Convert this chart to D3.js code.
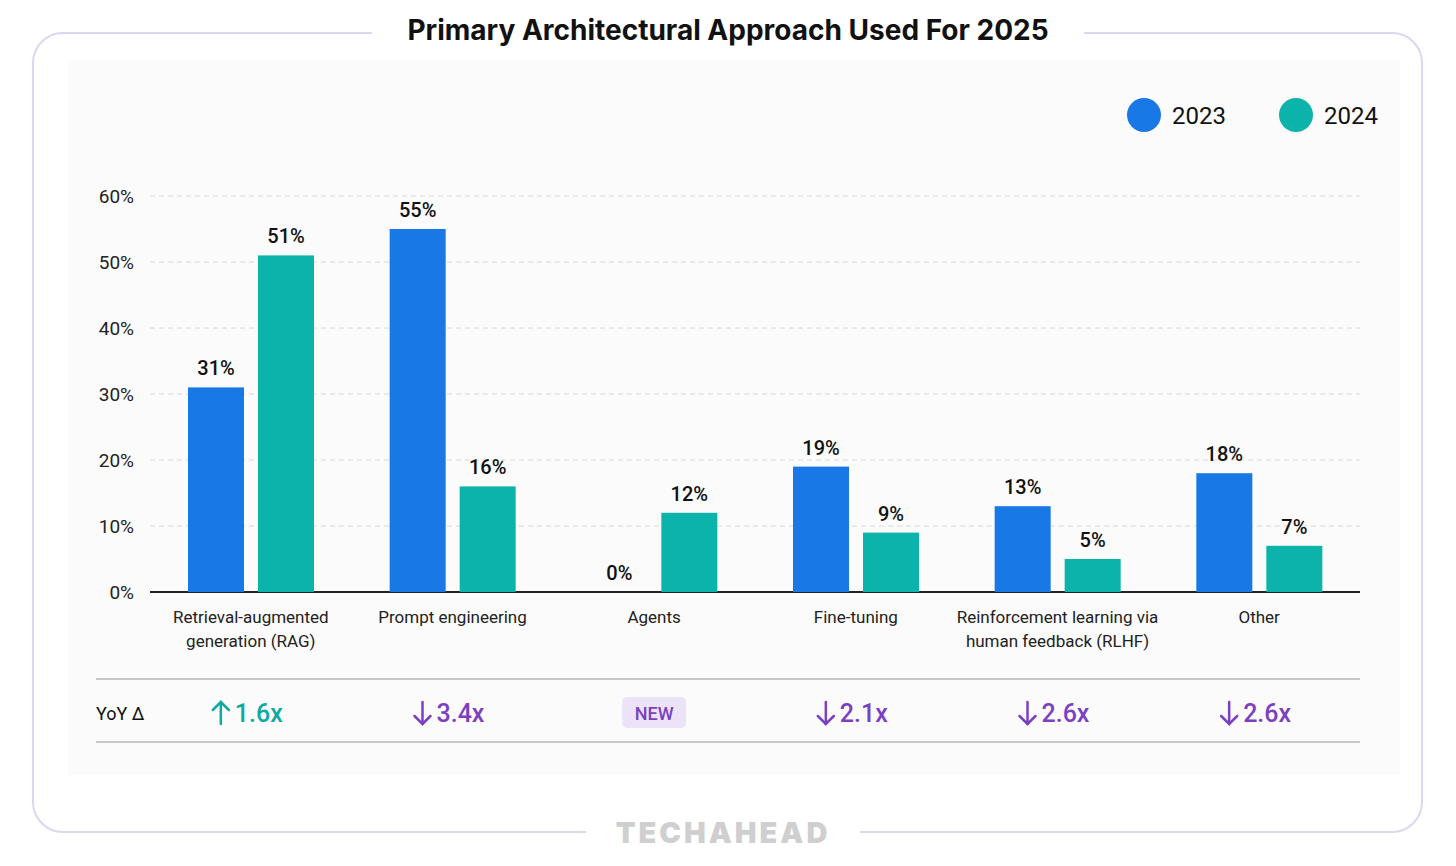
<!DOCTYPE html>
<html><head><meta charset="utf-8">
<script src="https://cdn.jsdelivr.net/npm/d3@7"></script>
<style>body{margin:0;background:#fff}svg{display:block}</style>
</head><body>
<svg id="chart" width="1456" height="866"></svg>
<script>
// chart data
const categories = ["Retrieval-augmented\ngeneration (RAG)", "Prompt engineering", "Agents", "Fine-tuning", "Reinforcement learning via\nhuman feedback (RLHF)", "Other"];
const series = ["2023", "2024"];
const values2023 = [31, 55, 0, 19, 13, 18];
const values2024 = [51, 16, 12, 9, 5, 7];
const yoyLabels = ["1.6x", "3.4x", "NEW", "2.1x", "2.6x", "2.6x"];
const yoyDir = ["up", "down", "new", "down", "down", "down"];
const yTicks = [0, 10, 20, 30, 40, 50, 60];

const colors = {"2023": "#1778e6", "2024": "#0cb3aa"};
const svg = d3.select("#chart");
const font = "Roboto, sans-serif";

// frame
svg.append("rect").attr("x", 33).attr("y", 33).attr("width", 1389).attr("height", 799)
  .attr("rx", 30).attr("fill", "#fff").attr("stroke", "#dcd6f0").attr("stroke-width", 2);
svg.append("rect").attr("x", 68).attr("y", 60).attr("width", 1332).attr("height", 715).attr("fill", "#fbfbfb");
// gaps in the border for title and logo
svg.append("rect").attr("x", 372).attr("y", 25).attr("width", 712).attr("height", 16).attr("fill", "#fff");
svg.append("rect").attr("x", 586).attr("y", 824).attr("width", 274).attr("height", 16).attr("fill", "#fff");
svg.append("text").attr("x", 728).attr("y", 40).attr("text-anchor", "middle")
  .attr("font-family", "Inter, sans-serif").attr("font-weight", 700).attr("font-size", 28).attr("fill", "#111")
  .text("Primary Architectural Approach Used For 2025");
svg.append("text").attr("x", 723).attr("y", 843).attr("text-anchor", "middle")
  .attr("font-family", "Inter, sans-serif").attr("font-weight", 900).attr("font-size", 29).attr("letter-spacing", 3)
  .attr("fill", "#cfcfcf").text("TECHAHEAD");

// legend
[[1144, "2023"], [1296, "2024"]].forEach(([x, s]) => {
  svg.append("circle").attr("cx", x).attr("cy", 115).attr("r", 17).attr("fill", colors[s]);
  svg.append("text").attr("x", x + 28).attr("y", 124).attr("font-family", font).attr("font-size", 24)
    .attr("fill", "#111").text(s);
});

// scales
const x = d3.scaleBand().domain(categories).range([150, 1360]);
const xs = d3.scaleBand().domain(series).range([38, 164]).paddingInner(0.2);
const y = d3.scaleLinear().domain([0, 60]).range([592, 196]);

// grid + y axis
const g = svg.append("g");
g.selectAll("line.grid").data(yTicks.filter(d => d > 0)).join("line")
  .attr("x1", 150).attr("x2", 1360).attr("y1", d => y(d)).attr("y2", d => y(d))
  .attr("stroke", "#d8d8d8").attr("stroke-dasharray", "5,4");
g.selectAll("text.yt").data(yTicks).join("text")
  .attr("x", 134).attr("y", d => y(d) + 7).attr("text-anchor", "end")
  .attr("font-family", font).attr("font-size", 19).attr("fill", "#222").text(d => d + "%");
g.append("line").attr("x1", 150).attr("x2", 1360).attr("y1", y(0)).attr("y2", y(0))
  .attr("stroke", "#222").attr("stroke-width", 2);

// bars
const rows = [];
categories.forEach((c, i) => {
  rows.push({c, s: "2023", v: values2023[i]});
  rows.push({c, s: "2024", v: values2024[i]});
});
g.selectAll("rect.bar").data(rows).join("rect")
  .attr("x", d => x(d.c) + xs(d.s)).attr("width", xs.bandwidth())
  .attr("y", d => y(d.v)).attr("height", d => y(0) - y(d.v)).attr("fill", d => colors[d.s]);
g.selectAll("text.val").data(rows).join("text")
  .attr("x", d => x(d.c) + xs(d.s) + xs.bandwidth() / 2).attr("y", d => y(d.v) - 12)
  .attr("text-anchor", "middle").attr("font-family", font).attr("font-weight", 500)
  .attr("font-size", 20).attr("fill", "#111").text(d => d.v + "%");

// category labels
categories.forEach(c => {
  const t = g.append("text").attr("x", x(c) + x.bandwidth() / 2).attr("y", 623)
    .attr("text-anchor", "middle").attr("font-family", font).attr("font-size", 17).attr("fill", "#222");
  c.split("\n").forEach((line, j) => t.append("tspan").attr("x", x(c) + x.bandwidth() / 2).attr("dy", j ? 24 : 0).text(line));
});

// YoY row
[679, 742].forEach(yy => svg.append("line").attr("x1", 96).attr("x2", 1360).attr("y1", yy).attr("y2", yy)
  .attr("stroke", "#c8c8c8").attr("stroke-width", 2));
svg.append("text").attr("x", 96).attr("y", 720).attr("font-family", font).attr("font-size", 18)
  .attr("fill", "#111").text("YoY Δ");
categories.forEach((c, i) => {
  const cx = x(c) + x.bandwidth() / 2;
  if (yoyDir[i] === "new") {
    svg.append("rect").attr("x", cx - 32).attr("y", 697).attr("width", 64).attr("height", 31).attr("rx", 5).attr("fill", "#ece3f8");
    svg.append("text").attr("x", cx).attr("y", 720).attr("text-anchor", "middle").attr("font-family", font)
      .attr("font-weight", 500).attr("font-size", 18).attr("fill", "#7b3fc1").text(yoyLabels[i]);
  } else {
    const col = yoyDir[i] === "up" ? "#10a99f" : "#7b3fc1";
    // arrow drawn as a small path, then the ratio
    const ay = yoyDir[i] === "up" ? -1 : 1;
    const ag = svg.append("g").attr("transform", `translate(${cx - 30},713)`)
      .attr("stroke", col).attr("stroke-width", 2.5).attr("fill", "none").attr("stroke-linecap", "round");
    ag.append("line").attr("x1", 0).attr("x2", 0).attr("y1", -11 * ay).attr("y2", 11 * ay);
    ag.append("polyline").attr("points", `-8,${3 * ay} 0,${11 * ay} 8,${3 * ay}`);
    svg.append("text").attr("x", cx - 16).attr("y", 722).attr("font-family", font)
      .attr("font-weight", 500).attr("font-size", 25).attr("fill", col).text(yoyLabels[i]);
  }
});
</script>
</body></html>
